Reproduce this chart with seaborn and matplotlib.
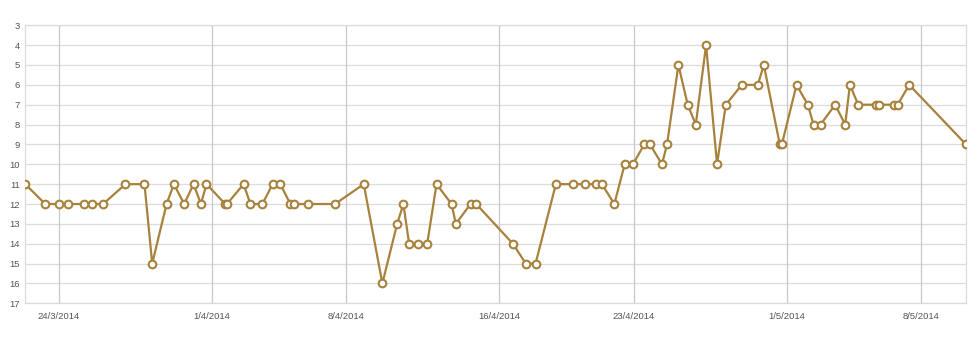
import matplotlib
matplotlib.use("Agg")
import matplotlib.pyplot as plt
import matplotlib.dates as mdates
import seaborn as sns
import pandas as pd

timestamps = [
    "2014-03-22 06:00", "2014-03-23 07:00", "2014-03-24 00:00", "2014-03-24 11:40",
    "2014-03-25 07:45", "2014-03-25 17:45", "2014-03-26 07:30", "2014-03-27 11:30",
    "2014-03-28 11:20", "2014-03-28 21:00", "2014-03-29 15:00", "2014-03-30 00:10",
    "2014-03-30 13:00", "2014-03-31 00:50", "2014-03-31 10:00", "2014-03-31 17:00",
    "2014-04-01 16:30", "2014-04-01 18:40", "2014-04-02 15:30", "2014-04-03 00:00",
    "2014-04-03 15:00", "2014-04-04 03:50", "2014-04-04 13:30", "2014-04-05 02:00",
    "2014-04-05 07:00", "2014-04-06 00:40", "2014-04-07 10:00", "2014-04-08 22:00",
    "2014-04-09 21:20", "2014-04-10 15:50", "2014-04-10 23:40", "2014-04-11 06:50",
    "2014-04-11 18:30", "2014-04-12 05:30", "2014-04-12 17:10", "2014-04-13 12:00",
    "2014-04-13 17:20", "2014-04-14 11:45", "2014-04-14 18:50", "2014-04-16 16:50",
    "2014-04-17 09:00", "2014-04-17 21:15", "2014-04-18 22:40", "2014-04-19 20:00",
    "2014-04-20 11:00", "2014-04-21 00:50", "2014-04-21 08:20", "2014-04-21 23:55",
    "2014-04-22 12:50", "2014-04-22 23:15", "2014-04-23 13:20", "2014-04-23 20:35",
    "2014-04-24 11:35", "2014-04-24 17:55", "2014-04-25 08:10", "2014-04-25 19:50",
    "2014-04-26 05:55", "2014-04-26 18:50", "2014-04-27 08:35", "2014-04-27 19:30",
    "2014-04-28 15:35", "2014-04-29 11:35", "2014-04-29 19:10", "2014-04-30 15:10",
    "2014-04-30 17:45", "2014-05-01 12:10", "2014-05-02 02:20", "2014-05-02 09:25",
    "2014-05-02 18:15", "2014-05-03 12:30", "2014-05-04 01:05", "2014-05-04 07:00",
    "2014-05-04 17:25", "2014-05-05 15:10", "2014-05-05 19:40", "2014-05-06 14:10",
    "2014-05-06 18:45", "2014-05-07 09:20", "2014-05-10 08:25",
]
ranks = [
    11, 12, 12, 12, 12, 12, 12, 11,
    11, 15, 12, 11, 12, 11, 12, 11,
    12, 12, 11, 12, 12, 11, 11, 12,
    12, 12, 12, 11, 16, 13, 12, 14,
    14, 14, 11, 12, 13, 12, 12, 14,
    15, 15, 11, 11, 11, 11, 11, 12,
    10, 10, 9, 9, 10, 9, 5, 7,
    8, 4, 10, 7, 6, 6, 5, 9,
    9, 6, 7, 8, 8, 7, 8, 6,
    7, 7, 7, 7, 7, 6, 9,
]
tick_dates = ["2014-03-24", "2014-04-01", "2014-04-08", "2014-04-16",
              "2014-04-23", "2014-05-01", "2014-05-08"]
tick_labels = ["24/3/2014", "1/4/2014", "8/4/2014", "16/4/2014",
               "23/4/2014", "1/5/2014", "8/5/2014"]
y_ticks = list(range(3, 18))

df = pd.DataFrame({"date": pd.to_datetime(timestamps), "rank": ranks})

sns.set_style("white")
plt.rcParams["font.family"] = ["Liberation Sans", "DejaVu Sans"]

color = "#a8823c"
fig = plt.figure(figsize=(9.8, 3.37), dpi=100)
ax = fig.add_axes([0.0258, 0.1, 0.9599, 0.825])

sns.lineplot(data=df, x="date", y="rank", ax=ax, color=color, linewidth=1.6,
             marker="o", markersize=5.5, markerfacecolor="white",
             markeredgecolor=color, markeredgewidth=1.5, estimator=None,
             sort=False, zorder=3)

ax.set_xlim(df["date"].iloc[0], df["date"].iloc[-1])
ax.set_ylim(17, 3)
ax.set_yticks(y_ticks)
ax.set_yticklabels([str(v) for v in y_ticks])
ax.set_xticks(pd.to_datetime(tick_dates))
ax.set_xticklabels(tick_labels)

ax.grid(False)
for v in y_ticks:
    ax.axhline(v, color="#dcdcdc", linewidth=0.9, zorder=1)
for d in pd.to_datetime(tick_dates):
    ax.axvline(d, color="#c8c8c8", linewidth=0.9, zorder=1)

for s in ax.spines.values():
    s.set_color("#dcdcdc")
    s.set_linewidth(0.9)

ax.tick_params(axis="both", length=0, labelsize=6.8, labelcolor="#555555")
ax.tick_params(axis="y", pad=4)
ax.tick_params(axis="x", pad=6)
ax.set_xlabel("")
ax.set_ylabel("")

fig.savefig("out.png", dpi=100)
